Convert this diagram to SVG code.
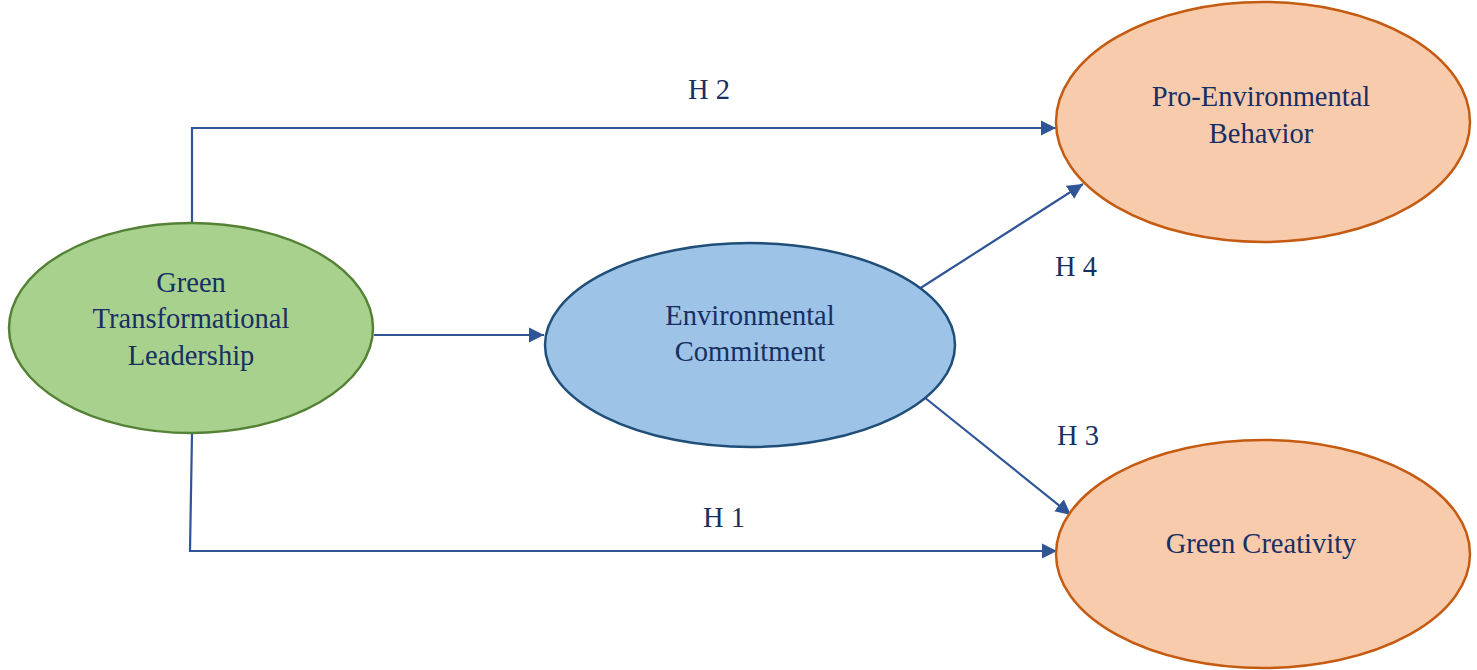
<svg xmlns="http://www.w3.org/2000/svg" width="1477" height="670" viewBox="0 0 1477 670">
<style>
text{font-family:"Liberation Serif","Times New Roman",serif;font-size:28.5px;fill:#172F62;text-anchor:middle}
.c{fill:none;stroke:#2F5597;stroke-width:2.2}
</style>
<defs>
<marker id="ah" viewBox="0 0 10 10" refX="10" refY="5" markerWidth="7" markerHeight="7" markerUnits="strokeWidth" orient="auto">
<path d="M0,0 L10,5 L0,10 z" fill="#2F5597"/>
</marker>
</defs>
<rect width="1477" height="670" fill="#fff"/>
<g id="connectors">
<polyline class="c" points="192,223 192,128 1056,128" marker-end="url(#ah)"/>
<polyline class="c" points="192,434 190,551 1057,551" marker-end="url(#ah)"/>
<line class="c" x1="374" y1="335" x2="544" y2="335" marker-end="url(#ah)"/>
<line class="c" x1="919" y1="289" x2="1083" y2="184" marker-end="url(#ah)"/>
<line class="c" x1="924" y1="397" x2="1071" y2="515" marker-end="url(#ah)"/>
<text x="709" y="99">H 2</text>
<text x="724" y="527">H 1</text>
<text x="1076" y="276">H 4</text>
<text x="1078" y="445">H 3</text>
</g>
<g id="gtl">
<ellipse cx="191" cy="328" rx="182" ry="105" fill="#A9D18E" stroke="#548235" stroke-width="2.5"/>
<text x="191" y="292">Green</text>
<text x="191" y="328">Transformational</text>
<text x="191" y="365">Leadership</text>
</g>
<g id="ec">
<ellipse cx="750" cy="345" rx="205" ry="102" fill="#9DC3E6" stroke="#1F4E79" stroke-width="2.5"/>
<text x="750" y="325">Environmental</text>
<text x="750" y="361">Commitment</text>
</g>
<g id="peb">
<ellipse cx="1263" cy="122" rx="207" ry="120" fill="#F8CBAD" stroke="#C55A11" stroke-width="2.5"/>
<text x="1261" y="106">Pro-Environmental</text>
<text x="1261" y="143">Behavior</text>
</g>
<g id="gc">
<ellipse cx="1263" cy="554" rx="207" ry="114" fill="#F8CBAD" stroke="#C55A11" stroke-width="2.5"/>
<text x="1261" y="553">Green Creativity</text>
</g>
</svg>
